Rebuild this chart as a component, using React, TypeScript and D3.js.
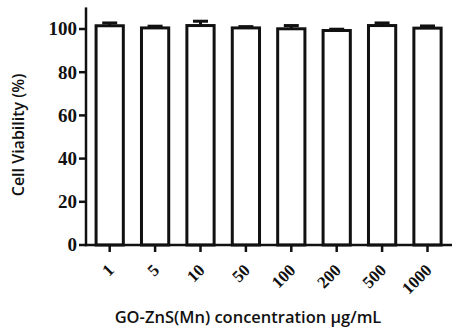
import * as d3 from 'd3'

const W = 460
const H = 335

// concentrations (µg/mL) and measured viability
const concentrations = ['1', '5', '10', '50', '100', '200', '500', '1000']
const viability = [101.5, 100.5, 101.6, 100.5, 100.1, 99.3, 101.6, 100.4]
const sdUpper = [1.3, 0.8, 2.0, 0.6, 1.5, 0.6, 1.2, 1.0]
const yTicks = [0, 20, 40, 60, 80, 100]

const AXIS_X = 86
const AXIS_Y = 245

const x = d3.scaleBand<string>()
  .domain(concentrations)
  .range([AXIS_X + 1, AXIS_X + 1 + 8 * 45.4])
  .paddingInner(0.4)
  .paddingOuter(0.2)

const y = d3.scaleLinear().domain([0, 110]).range([AXIS_Y, 7.4])

const SERIF = '"Liberation Serif", "Times New Roman", serif'
const SANS = '"Open Sans", "Noto Sans", sans-serif'

export default function App() {
  const bw = x.bandwidth()
  const capW = bw * 0.55

  return (
    <svg
      width={W}
      height={H}
      style={{ position: 'absolute', left: 0, top: 0, background: '#fff' }}
    >
      {/* bars + upward error bars */}
      {concentrations.map((c, i) => {
        const x0 = x(c)!
        const cx = x0 + bw / 2
        const top = y(viability[i])
        const errTop = y(viability[i] + sdUpper[i])
        return (
          <g key={c}>
            <line x1={cx} x2={cx} y1={top} y2={errTop} stroke="#111" strokeWidth={3} />
            <line x1={cx - capW / 2} x2={cx + capW / 2} y1={errTop} y2={errTop} stroke="#111" strokeWidth={3} />
            <rect
              x={x0}
              y={top}
              width={bw}
              height={AXIS_Y - top}
              fill="#fff"
              stroke="#111"
              strokeWidth={3}
            />
          </g>
        )
      })}

      {/* y axis */}
      <line x1={AXIS_X} x2={AXIS_X} y1={y(110)} y2={AXIS_Y + 1.25} stroke="#111" strokeWidth={2.5} />
      {yTicks.map((t) => (
        <g key={t} transform={`translate(${AXIS_X},${y(t)})`}>
          <line x1={-7} x2={0} stroke="#111" strokeWidth={2.5} />
          <text
            x={-9}
            dy="0.34em"
            textAnchor="end"
            fontFamily={SERIF}
            fontWeight="bold"
            fontSize={19}
            fill="#111"
          >
            {t}
          </text>
        </g>
      ))}

      {/* x axis */}
      <line x1={AXIS_X - 1.25} x2={452} y1={AXIS_Y} y2={AXIS_Y} stroke="#111" strokeWidth={2.5} />
      {concentrations.map((c) => {
        const cx = x(c)! + bw / 2
        return (
          <g key={c}>
            <line x1={cx} x2={cx} y1={AXIS_Y} y2={AXIS_Y + 7} stroke="#111" strokeWidth={2.5} />
            <text
              transform={`translate(${cx + 1},${AXIS_Y + 22}) rotate(-45)`}
              textAnchor="end"
              dy="0.35em"
              fontFamily={SERIF}
              fontWeight="bold"
              fontSize={17}
              fill="#111"
            >
              {c}
            </text>
          </g>
        )
      })}

      {/* axis titles */}
      <text
        transform="translate(24,135) rotate(-90)"
        textAnchor="middle"
        fontFamily={SANS}
        fontWeight={600}
        fontSize={16}
        fill="#111"
      >
        Cell Viability (%)
      </text>
      <text
        x={248}
        y={323}
        textAnchor="middle"
        fontFamily={SANS}
        fontWeight={600}
        fontSize={16.5}
        fill="#111"
      >
        GO-ZnS(Mn) concentration µg/mL
      </text>
    </svg>
  )
}
